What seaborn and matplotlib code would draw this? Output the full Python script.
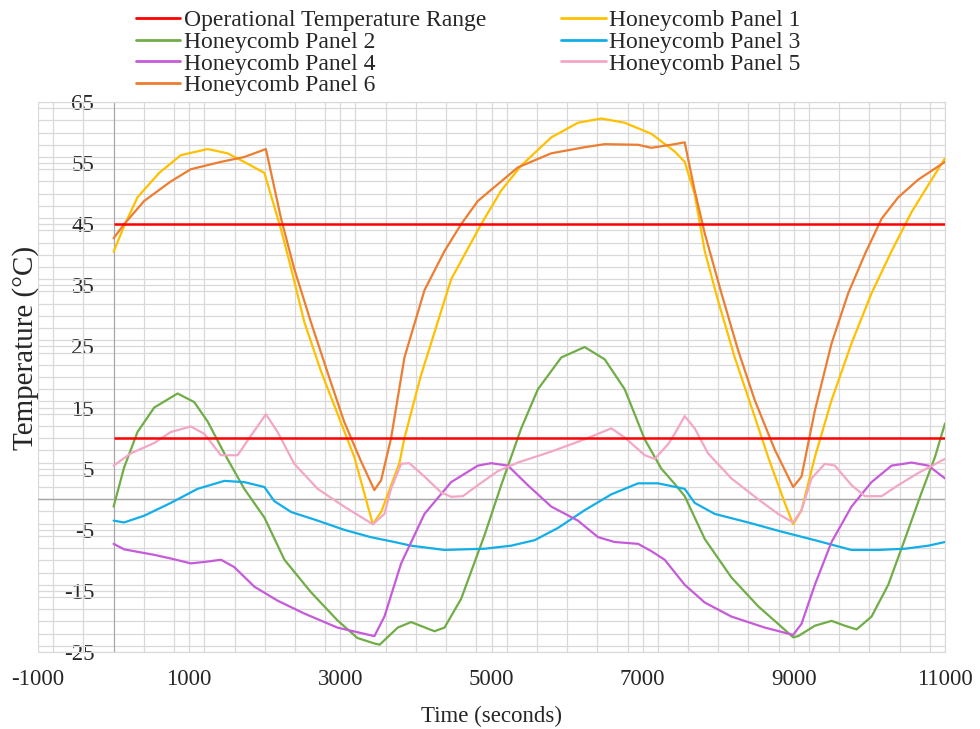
import matplotlib
matplotlib.use("Agg")
import matplotlib.pyplot as plt
from matplotlib.lines import Line2D
from matplotlib.ticker import MultipleLocator
import seaborn as sns
import pandas as pd

sns.set_style("white")
plt.rcParams['font.family'] = ['Liberation Serif', 'DejaVu Serif']
plt.rcParams['axes.unicode_minus'] = False

# temperature traces (time in s, temperature in degC)
p1_t = [0, 139, 316, 603, 890, 1245, 1508, 1773, 1995, 2216, 2350, 2523, 2745, 2965, 3185, 3430, 3543, 3781, 3848,
        4060, 4466, 4863, 5128, 5393, 5790, 6143, 6453, 6762, 7115, 7424, 7556, 7688, 7821, 7997, 8218, 8439, 8660,
        8880, 8991, 9101, 9278, 9499, 9763, 10028, 10293, 10558, 10823, 11000]
p1_v = [40.5, 44.7, 49.4, 53.4, 56.3, 57.3, 56.6, 54.9, 53.4, 44.1, 37.7, 29, 20.9, 13.9, 6.9, -4.1, -2, 5.9, 10,
        20, 36, 45, 50.5, 54.6, 59.2, 61.6, 62.3, 61.6, 59.8, 56.9, 55.2, 49.9, 40.6, 32.5, 23.2, 15.1, 6.9,
        -0.6, -4.1, -1.8, 6.9, 16.2, 25.5, 33.7, 40.6, 47, 52.3, 55.8]

p2_t = [0, 139, 316, 537, 846, 1066, 1245, 1465, 1729, 1995, 2260, 2610, 2960, 3225, 3450, 3520, 3760, 3936, 4245,
        4378, 4598, 4907, 5128, 5393, 5614, 5923, 6232, 6497, 6762, 7027, 7247, 7424, 7556, 7821, 8174, 8527, 8792,
        8991, 9057, 9278, 9499, 9675, 9830, 10028, 10249, 10470, 10690, 10867, 11000]
p2_v = [-1.2, 5.2, 11, 15, 17.3, 15.9, 12.7, 7.5, 1.7, -3, -9.9, -15.2, -19.8, -22.7, -23.6, -23.8, -21, -20.1, -21.6,
        -21, -16.3, -5.9, 2.3, 11.6, 18, 23.2, 24.9, 22.9, 18, 9.8, 5, 2.5, 0.5, -6.5, -12.8, -17.5, -20.4,
        -22.6, -22.4, -20.7, -19.9, -20.7, -21.3, -19.2, -14, -6.5, 1.1, 6.9, 12.4]

p3_t = [0, 139, 404, 757, 1111, 1465, 1729, 1995, 2125, 2350, 2700, 3050, 3400, 3715, 3936, 4378, 4907, 5260, 5570,
        5879, 6232, 6585, 6939, 7203, 7556, 7688, 7953, 8395, 8836, 9278, 9763, 10117, 10470, 10779, 11000]
p3_v = [-3.5, -3.8, -2.7, -0.6, 1.7, 3, 2.8, 2, -0.3, -2.1, -3.5, -5, -6.2, -7, -7.6, -8.3, -8.1, -7.6, -6.7,
        -4.7, -1.8, 0.8, 2.6, 2.6, 1.7, -0.6, -2.4, -3.8, -5.3, -6.7, -8.3, -8.3, -8.1, -7.6, -7]

p4_t = [0, 139, 537, 757, 1022, 1245, 1420, 1596, 1861, 2170, 2523, 2960, 3450, 3583, 3804, 4113, 4466, 4819, 4995,
        5216, 5481, 5790, 6143, 6409, 6629, 6939, 7115, 7291, 7556, 7821, 8174, 8615, 8991, 9101, 9278, 9499, 9763,
        10028, 10293, 10558, 10779, 11000]
p4_v = [-7.3, -8.2, -9.1, -9.7, -10.5, -10.2, -9.9, -11.1, -14.3, -16.6, -18.7, -21, -22.4, -19.2, -10.5, -2.4, 2.8,
        5.5, 5.9, 5.5, 2.3, -1.2, -3.5, -6.2, -7, -7.3, -8.5, -9.9, -14, -16.9, -19.2, -21, -22.2, -20.4, -14, -7,
        -1.2, 2.8, 5.5, 6, 5.5, 3.4]

p5_t = [0, 227, 537, 757, 1022, 1200, 1420, 1640, 1817, 2015, 2170, 2390, 2700, 3050, 3430, 3583, 3671, 3804, 3914,
        4113, 4334, 4466, 4621, 4819, 5084, 5349, 5790, 6232, 6585, 6762, 7027, 7159, 7336, 7423, 7556, 7688, 7865,
        8174, 8527, 8792, 8991, 9101, 9234, 9410, 9543, 9763, 9940, 10161, 10381, 10646, 11000]
p5_v = [5.5, 7.5, 9.2, 11, 11.9, 10.7, 7.2, 7.2, 10.4, 13.9, 11, 5.8, 1.7, -1.2, -4.1, -2.4, 1.7, 5.8, 5.9,
        3.7, 1.1, 0.4, 0.5, 2.3, 4.6, 6, 7.8, 9.8, 11.6, 10.1, 7.2, 6.6, 9, 10.7, 13.6, 11.6, 7.5,
        3.4, 0, -2.4, -3.8, -1.8, 3.4, 5.8, 5.5, 2.3, 0.5, 0.5, 2.3, 4.3, 6.6]

p6_t = [0, 139, 404, 757, 1022, 1420, 1729, 2015, 2216, 2390, 2610, 2875, 3050, 3270, 3450, 3539, 3671, 3848, 4113,
        4378, 4598, 4819, 5349, 5790, 6232, 6497, 6939, 7115, 7424, 7556, 7688, 7821, 8042, 8262, 8483, 8748, 8991,
        9101, 9278, 9499, 9719, 9940, 10161, 10381, 10646, 11000]
p6_v = [42.7, 45, 48.8, 52, 54, 55.2, 56, 57.3, 45.9, 37.7, 29, 19.1, 12.7, 6.3, 1.5, 3.1, 10, 23.2, 34.2,
        40.6, 45, 48.8, 54.3, 56.6, 57.6, 58.1, 58, 57.5, 58.1, 58.4, 50.5, 43.5, 33.7, 24.4, 16.2, 8.1, 2,
        3.7, 14.5, 25.5, 33.7, 40.1, 45.9, 49.4, 52.3, 55.2]

op_limits = [10, 45]
op_span = [0, 11000]

panel_names = ["Honeycomb Panel 1", "Honeycomb Panel 2", "Honeycomb Panel 3",
               "Honeycomb Panel 4", "Honeycomb Panel 5", "Honeycomb Panel 6"]
panel_colors = ["#FFC000", "#70AD47", "#12AEE8", "#C65BDA", "#F2A7C6", "#ED7D31"]
op_color = "#FF0000"

frames = []
for name, t, v in zip(panel_names, [p1_t, p2_t, p3_t, p4_t, p5_t, p6_t], [p1_v, p2_v, p3_v, p4_v, p5_v, p6_v]):
    frames.append(pd.DataFrame({"time": t, "temp": v, "panel": name}))
df = pd.concat(frames, ignore_index=True)

fig = plt.figure(figsize=(9.8, 7.29), dpi=100)
ax = fig.add_axes([0.0388, 0.1056, 0.9255, 0.7545])

sns.lineplot(data=df, x="time", y="temp", hue="panel", palette=dict(zip(panel_names, panel_colors)),
             estimator=None, sort=False, linewidth=1.6, legend=False, ax=ax, zorder=3)
ax.hlines(op_limits, op_span[0], op_span[1], colors=op_color, linewidth=1.8, zorder=4)

ax.set_xlim(-1000, 11000)
ax.set_ylim(-25, 65)
ax.set_xticks(range(-1000, 11001, 2000))
ax.set_yticks(range(-25, 66, 10))
ax.xaxis.set_minor_locator(MultipleLocator(400))
ax.yaxis.set_minor_locator(MultipleLocator(2))
ax.grid(which="both", color="#d9d9d9", linewidth=0.9)
ax.set_axisbelow(True)

# value axis sits at t = 0, category axis line at 0 degC
ax.spines["left"].set_position(("data", 0))
ax.spines["left"].set_color("#a6a6a6")
ax.spines["left"].set_zorder(2)
ax.axhline(0, color="#a6a6a6", linewidth=1.0, zorder=2)
for s in ["top", "right", "bottom"]:
    ax.spines[s].set_color("#d9d9d9")
ax.tick_params(axis="y", which="both", length=0, pad=14, labelsize=16.5)
ax.tick_params(axis="x", which="both", length=0, pad=12, labelsize=16.5)

ax.set_xlabel("Time (seconds)", fontsize=16.5, labelpad=12)
ax.set_ylabel("Temperature (°C)", fontsize=21)
ax.yaxis.set_label_coords(0.001, 0.553)

handles = [Line2D([], [], color=op_color, lw=2)] + [Line2D([], [], color=c, lw=2) for c in panel_colors]
labels = ["Operational Temperature Range"] + panel_names
order = [0, 2, 4, 6, 1, 3, 5]
fig.legend([handles[i] for i in order], [labels[i] for i in order], ncol=2, loc="upper left",
           bbox_to_anchor=(0.1215, 1.009), frameon=False, fontsize=17, handlelength=1.9,
           handletextpad=0.13, columnspacing=3.2, labelspacing=0.0, borderaxespad=0.3)

fig.savefig("out.png", dpi=100)
